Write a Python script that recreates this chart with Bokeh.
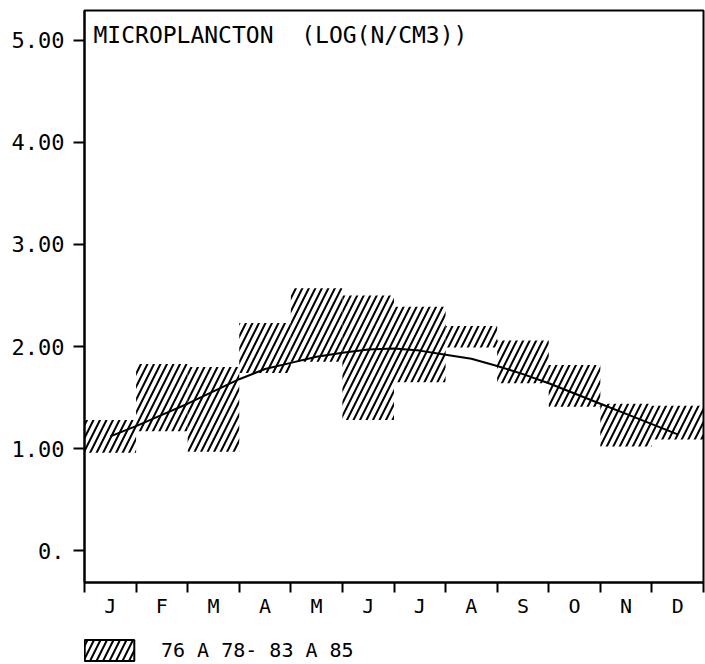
from bokeh.plotting import figure
from bokeh.layouts import column
from bokeh.models import (FixedTicker, Range1d, Label, Legend, LegendItem,
                          ColumnDataSource)
from bokeh.embed import file_html
from bokeh.resources import INLINE

# ---- data ----
months = ["J", "F", "M", "A", "M", "J", "J", "A", "S", "O", "N", "D"]
range_low = [0.96, 1.17, 0.97, 1.74, 1.85, 1.28, 1.65, 1.99, 1.64, 1.41, 1.02, 1.09]
range_high = [1.28, 1.83, 1.80, 2.23, 2.57, 2.50, 2.39, 2.20, 2.06, 1.82, 1.44, 1.42]

curve_month = [0.5, 1.0, 1.5, 2.0, 2.5, 3.0, 3.5, 4.0, 4.5, 5.0, 5.5, 6.0,
               6.5, 7.0, 7.5, 8.0, 8.5, 9.0, 9.5, 10.0, 10.5, 11.0, 11.5]
curve_value = [1.12, 1.22, 1.33, 1.44, 1.56, 1.68, 1.78, 1.84, 1.90, 1.94, 1.97, 1.98,
               1.96, 1.92, 1.88, 1.81, 1.73, 1.64, 1.54, 1.44, 1.34, 1.24, 1.14]

y_ticks = [0, 1, 2, 3, 4, 5]
y_tick_labels = ["0.", "1.00", "2.00", "3.00", "4.00", "5.00"]
title_text = "MICROPLANCTON \u00a0(LOG(N/CM3))"
legend_text = "76 A 78- 83 A 85"

FONT = "DejaVu Sans Mono"

src = ColumnDataSource(dict(
    left=[i for i in range(len(months))],
    right=[i + 1 for i in range(len(months))],
    low=range_low,
    high=range_high,
))

hatch_kw = dict(hatch_pattern="/", hatch_color="black", hatch_weight=2,
                hatch_scale=13)

# ---------------- main chart ----------------
p = figure(width=705, height=620, output_backend="svg", toolbar_location=None,
           x_range=Range1d(0, 12), y_range=Range1d(-0.311, 5.291),
           min_border_left=84, min_border_right=2, min_border_top=10,
           min_border_bottom=33)
p.background_fill_color = "white"
p.border_fill_color = "white"
p.outline_line_color = "black"
p.outline_line_width = 2
p.xgrid.grid_line_color = None
p.ygrid.grid_line_color = None

p.quad(left="left", right="right", bottom="low", top="high", source=src,
       fill_color=None, line_color=None, **hatch_kw)
p.line(curve_month, curve_value, line_color="black", line_width=2)

# x axis: month labels centred, ticks at month boundaries
xa = p.xaxis[0]
xa.ticker = FixedTicker(ticks=[i + 0.5 for i in range(len(months))],
                        minor_ticks=list(range(len(months) + 1)))
xa.major_label_overrides = {i + 0.5: m for i, m in enumerate(months)}
xa.major_tick_line_color = None
xa.major_tick_out = 0
xa.major_tick_in = 0
xa.minor_tick_out = 10
xa.minor_tick_in = 0
xa.minor_tick_line_color = "black"
xa.minor_tick_line_width = 2
xa.axis_line_width = 2
xa.major_label_standoff = 1
xa.major_label_text_font = FONT
xa.major_label_text_font_size = "20px"
xa.major_label_text_color = "black"

ya = p.yaxis[0]
ya.ticker = FixedTicker(ticks=y_ticks, minor_ticks=[])
ya.major_label_overrides = {t: l for t, l in zip(y_ticks, y_tick_labels)}
ya.major_tick_out = 11
ya.major_tick_in = 0
ya.major_tick_line_width = 2
ya.minor_tick_line_color = None
ya.axis_line_width = 2
ya.major_label_standoff = 9
ya.major_label_text_font = FONT
ya.major_label_text_font_size = "22px"
ya.major_label_text_color = "black"

title = Label(x=9, y=548, x_units="screen", y_units="screen", text=title_text,
              text_font=FONT, text_font_size="23px", text_baseline="middle",
              text_align="left", text_color="black")
p.add_layout(title)

# ---------------- legend strip ----------------
pl = figure(width=705, height=44, output_backend="svg", toolbar_location=None,
            x_axis_type=None, y_axis_type=None,
            min_border_left=0, min_border_right=0, min_border_top=0,
            min_border_bottom=0)
pl.outline_line_color = None
pl.xgrid.grid_line_color = None
pl.ygrid.grid_line_color = None
swatch = pl.quad(left="left", right="right", bottom="low", top="high", source=src,
                 fill_color=None, line_color="black", line_width=2, visible=False,
                 **hatch_kw)
legend = Legend(items=[LegendItem(label=legend_text, renderers=[swatch], index=0)],
                location=(-6, 1), orientation="horizontal",
                glyph_width=62, glyph_height=26, label_standoff=21,
                padding=0, margin=0, spacing=0,
                border_line_color=None, background_fill_alpha=0,
                label_text_font=FONT, label_text_font_size="20px",
                label_text_color="black", click_policy="none")
pl.add_layout(legend, "center")

layout = column(p, pl, spacing=0)
open("out.html", "w").write(file_html(layout, INLINE))
